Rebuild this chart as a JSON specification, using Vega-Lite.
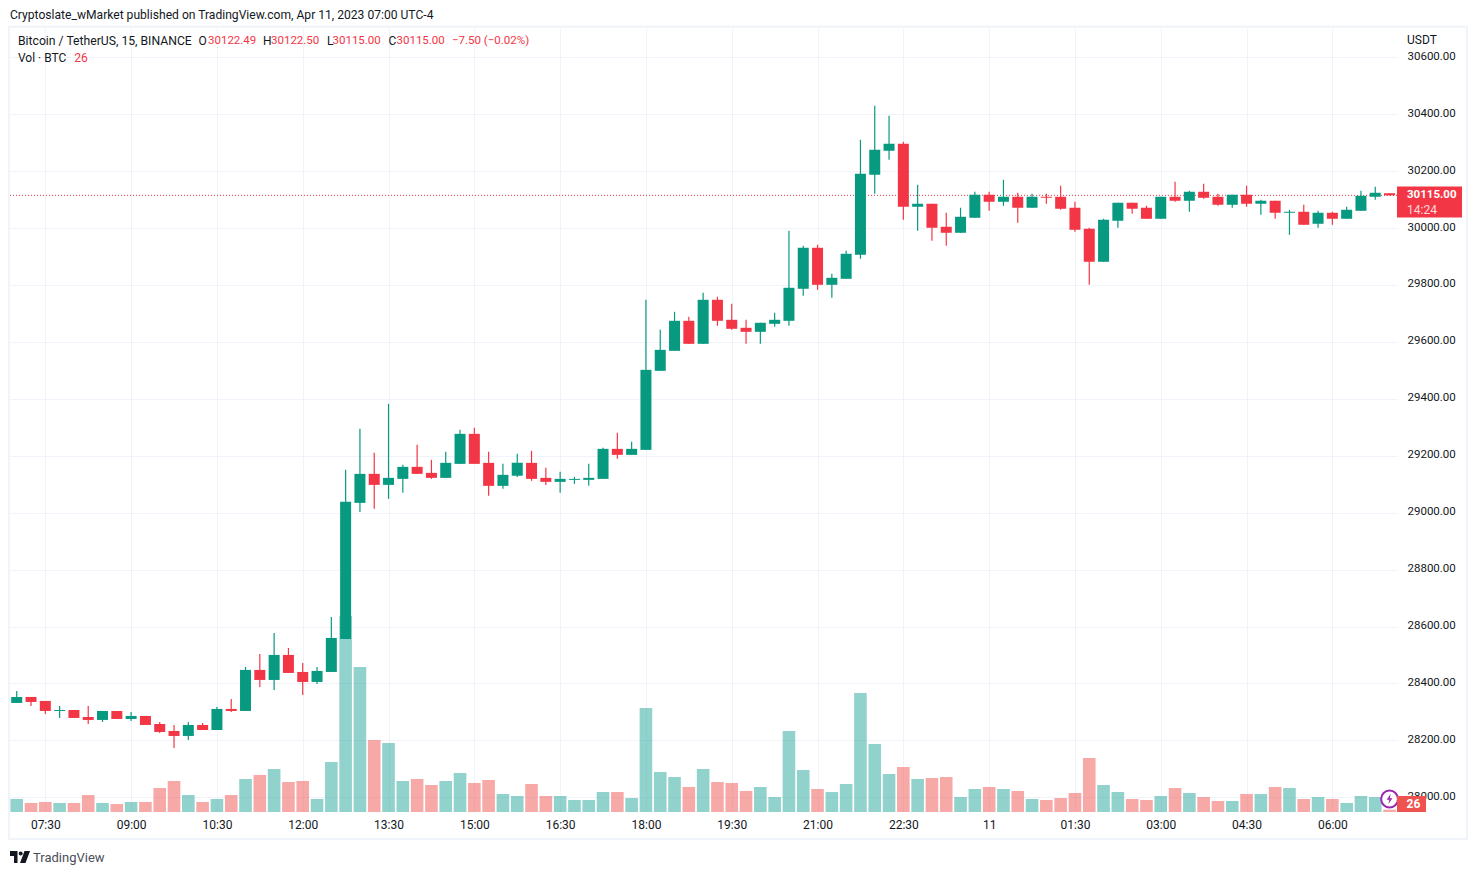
{"$schema":"https://vega.github.io/schema/vega-lite/v6.json","width":1387,"height":784,"autosize":{"type":"none"},"padding":{"left":10,"top":28,"right":80,"bottom":63},"background":"#ffffff","title":{"text":"Cryptoslate_wMarket published on TradingView.com, Apr 11, 2023 07:00 UTC-4","anchor":"start","frame":"group","fontSize":12.1,"fontWeight":"normal","color":"#131722","offset":5},"config":{"font":"Roboto","view":{"stroke":null},"text":{"fontSize":12,"align":"left","baseline":"middle","color":"#131722"}},"datasets":{"candles":[
{"t":"2023-04-10T07:00:00Z","open":28331.5,"high":28373.6,"low":28331.5,"close":28352.5,"volume":143},
{"t":"2023-04-10T07:15:00Z","open":28352.5,"high":28352.5,"low":28320.9,"close":28335,"volume":99},
{"t":"2023-04-10T07:30:00Z","open":28338.5,"high":28338.5,"low":28292.8,"close":28303.3,"volume":110},
{"t":"2023-04-10T07:45:00Z","open":28303.3,"high":28320.9,"low":28278.7,"close":28306.8,"volume":99},
{"t":"2023-04-10T08:00:00Z","open":28306.8,"high":28306.8,"low":28278.7,"close":28278.7,"volume":99},
{"t":"2023-04-10T08:15:00Z","open":28282.2,"high":28320.9,"low":28257.6,"close":28271.7,"volume":187},
{"t":"2023-04-10T08:30:00Z","open":28271.7,"high":28303.3,"low":28264.7,"close":28303.3,"volume":99},
{"t":"2023-04-10T08:45:00Z","open":28303.3,"high":28303.3,"low":28275.2,"close":28275.2,"volume":88},
{"t":"2023-04-10T09:00:00Z","open":28275.2,"high":28299.8,"low":28268.2,"close":28285.8,"volume":110},
{"t":"2023-04-10T09:15:00Z","open":28285.8,"high":28285.8,"low":28254.1,"close":28254.1,"volume":110},
{"t":"2023-04-10T09:30:00Z","open":28257.6,"high":28264.7,"low":28226,"close":28229.5,"volume":264},
{"t":"2023-04-10T09:45:00Z","open":28233,"high":28254.1,"low":28173.3,"close":28215.5,"volume":341},
{"t":"2023-04-10T10:00:00Z","open":28215.5,"high":28264.7,"low":28201.4,"close":28254.1,"volume":187},
{"t":"2023-04-10T10:15:00Z","open":28254.1,"high":28261.2,"low":28236.5,"close":28236.5,"volume":110},
{"t":"2023-04-10T10:30:00Z","open":28236.5,"high":28317.4,"low":28236.5,"close":28310.4,"volume":143},
{"t":"2023-04-10T10:45:00Z","open":28310.4,"high":28345.5,"low":28299.8,"close":28303.3,"volume":187},
{"t":"2023-04-10T11:00:00Z","open":28303.3,"high":28458,"low":28303.3,"close":28447.5,"volume":363},
{"t":"2023-04-10T11:15:00Z","open":28447.5,"high":28503.7,"low":28387.7,"close":28412.3,"volume":407},
{"t":"2023-04-10T11:30:00Z","open":28412.3,"high":28577.5,"low":28377.1,"close":28500.2,"volume":473},
{"t":"2023-04-10T11:45:00Z","open":28500.2,"high":28524.8,"low":28436.9,"close":28436.9,"volume":330},
{"t":"2023-04-10T12:00:00Z","open":28440.4,"high":28472.1,"low":28359.6,"close":28405.3,"volume":341},
{"t":"2023-04-10T12:15:00Z","open":28405.3,"high":28458,"low":28398.2,"close":28443.9,"volume":143},
{"t":"2023-04-10T12:30:00Z","open":28440.4,"high":28633.7,"low":28440.4,"close":28559.9,"volume":550},
{"t":"2023-04-10T12:45:00Z","open":28556.4,"high":29150.5,"low":28556.4,"close":29038,"volume":2156},
{"t":"2023-04-10T13:00:00Z","open":29034.5,"high":29294.5,"low":29002.8,"close":29136.4,"volume":1595},
{"t":"2023-04-10T13:15:00Z","open":29136.4,"high":29210.2,"low":29013.4,"close":29097.7,"volume":792},
{"t":"2023-04-10T13:30:00Z","open":29097.7,"high":29382.4,"low":29048.5,"close":29122.3,"volume":759},
{"t":"2023-04-10T13:45:00Z","open":29118.8,"high":29168,"low":29069.6,"close":29161,"volume":341},
{"t":"2023-04-10T14:00:00Z","open":29161,"high":29238.3,"low":29136.4,"close":29136.4,"volume":363},
{"t":"2023-04-10T14:15:00Z","open":29139.9,"high":29185.6,"low":29118.8,"close":29122.3,"volume":297},
{"t":"2023-04-10T14:30:00Z","open":29122.3,"high":29213.7,"low":29122.3,"close":29175.1,"volume":341},
{"t":"2023-04-10T14:45:00Z","open":29171.5,"high":29291,"low":29171.5,"close":29277,"volume":429},
{"t":"2023-04-10T15:00:00Z","open":29277,"high":29298.1,"low":29171.5,"close":29171.5,"volume":319},
{"t":"2023-04-10T15:15:00Z","open":29175.1,"high":29213.7,"low":29059.1,"close":29094.2,"volume":352},
{"t":"2023-04-10T15:30:00Z","open":29094.2,"high":29171.5,"low":29083.7,"close":29132.9,"volume":198},
{"t":"2023-04-10T15:45:00Z","open":29129.4,"high":29206.7,"low":29125.8,"close":29175.1,"volume":176},
{"t":"2023-04-10T16:00:00Z","open":29175.1,"high":29217.2,"low":29111.8,"close":29118.8,"volume":308},
{"t":"2023-04-10T16:15:00Z","open":29122.3,"high":29157.5,"low":29097.7,"close":29108.3,"volume":176},
{"t":"2023-04-10T16:30:00Z","open":29108.3,"high":29143.5,"low":29069.6,"close":29118.8,"volume":176},
{"t":"2023-04-10T16:45:00Z","open":29115.3,"high":29125.8,"low":29101.2,"close":29118.8,"volume":132},
{"t":"2023-04-10T17:00:00Z","open":29115.3,"high":29171.5,"low":29094.2,"close":29122.3,"volume":132},
{"t":"2023-04-10T17:15:00Z","open":29118.8,"high":29227.8,"low":29118.8,"close":29224.3,"volume":220},
{"t":"2023-04-10T17:30:00Z","open":29224.3,"high":29280.5,"low":29189.1,"close":29203.2,"volume":220},
{"t":"2023-04-10T17:45:00Z","open":29203.2,"high":29248.9,"low":29203.2,"close":29224.3,"volume":154},
{"t":"2023-04-10T18:00:00Z","open":29220.7,"high":29748,"low":29220.7,"close":29501.9,"volume":1144},
{"t":"2023-04-10T18:15:00Z","open":29498.4,"high":29642.5,"low":29498.4,"close":29572.2,"volume":440},
{"t":"2023-04-10T18:30:00Z","open":29568.7,"high":29705.8,"low":29568.7,"close":29674.2,"volume":385},
{"t":"2023-04-10T18:45:00Z","open":29674.2,"high":29688.2,"low":29593.3,"close":29593.3,"volume":275},
{"t":"2023-04-10T19:00:00Z","open":29593.3,"high":29772.6,"low":29593.3,"close":29748,"volume":473},
{"t":"2023-04-10T19:15:00Z","open":29748,"high":29758.5,"low":29656.6,"close":29674.2,"volume":330},
{"t":"2023-04-10T19:30:00Z","open":29677.7,"high":29733.9,"low":29642.5,"close":29646.1,"volume":319},
{"t":"2023-04-10T19:45:00Z","open":29649.6,"high":29677.7,"low":29593.3,"close":29635.5,"volume":231},
{"t":"2023-04-10T20:00:00Z","open":29635.5,"high":29667.2,"low":29593.3,"close":29667.2,"volume":275},
{"t":"2023-04-10T20:15:00Z","open":29663.6,"high":29702.3,"low":29653.1,"close":29677.7,"volume":165},
{"t":"2023-04-10T20:30:00Z","open":29674.2,"high":29990.5,"low":29656.6,"close":29790.2,"volume":891},
{"t":"2023-04-10T20:45:00Z","open":29786.7,"high":29937.8,"low":29762.1,"close":29930.8,"volume":462},
{"t":"2023-04-10T21:00:00Z","open":29930.8,"high":29941.3,"low":29783.1,"close":29800.7,"volume":253},
{"t":"2023-04-10T21:15:00Z","open":29800.7,"high":29839.4,"low":29755,"close":29825.3,"volume":220},
{"t":"2023-04-10T21:30:00Z","open":29821.8,"high":29920.2,"low":29821.8,"close":29909.7,"volume":308},
{"t":"2023-04-10T21:45:00Z","open":29906.2,"high":30310.4,"low":29892.1,"close":30190.9,"volume":1309},
{"t":"2023-04-10T22:00:00Z","open":30187.4,"high":30429.9,"low":30120.6,"close":30275.2,"volume":748},
{"t":"2023-04-10T22:15:00Z","open":30271.7,"high":30394.8,"low":30240.1,"close":30296.3,"volume":418},
{"t":"2023-04-10T22:30:00Z","open":30296.3,"high":30303.4,"low":30029.2,"close":30074.9,"volume":495},
{"t":"2023-04-10T22:45:00Z","open":30074.9,"high":30152.2,"low":29990.5,"close":30085.4,"volume":363},
{"t":"2023-04-10T23:00:00Z","open":30085.4,"high":30085.4,"low":29955.4,"close":30001.1,"volume":374},
{"t":"2023-04-10T23:15:00Z","open":30004.6,"high":30053.8,"low":29937.8,"close":29983.5,"volume":385},
{"t":"2023-04-10T23:30:00Z","open":29983.5,"high":30071.4,"low":29983.5,"close":30039.7,"volume":165},
{"t":"2023-04-10T23:45:00Z","open":30036.2,"high":30127.6,"low":30036.2,"close":30117.1,"volume":253},
{"t":"2023-04-11T00:00:00Z","open":30117.1,"high":30127.6,"low":30060.8,"close":30092.5,"volume":275},
{"t":"2023-04-11T00:15:00Z","open":30092.5,"high":30169.8,"low":30078.4,"close":30110,"volume":253},
{"t":"2023-04-11T00:30:00Z","open":30110,"high":30124.1,"low":30018.7,"close":30071.4,"volume":231},
{"t":"2023-04-11T00:45:00Z","open":30071.4,"high":30120.6,"low":30071.4,"close":30110,"volume":143},
{"t":"2023-04-11T01:00:00Z","open":30110,"high":30120.6,"low":30085.4,"close":30106.5,"volume":132},
{"t":"2023-04-11T01:15:00Z","open":30110,"high":30148.7,"low":30064.3,"close":30067.9,"volume":154},
{"t":"2023-04-11T01:30:00Z","open":30071.4,"high":30092.5,"low":29987,"close":29994,"volume":209},
{"t":"2023-04-11T01:45:00Z","open":29997.6,"high":30001.1,"low":29800.7,"close":29881.6,"volume":594},
{"t":"2023-04-11T02:00:00Z","open":29881.6,"high":30032.7,"low":29881.6,"close":30029.2,"volume":297},
{"t":"2023-04-11T02:15:00Z","open":30025.7,"high":30089,"low":30001.1,"close":30089,"volume":220},
{"t":"2023-04-11T02:30:00Z","open":30089,"high":30089,"low":30050.3,"close":30067.9,"volume":143},
{"t":"2023-04-11T02:45:00Z","open":30071.4,"high":30078.4,"low":30032.7,"close":30032.7,"volume":132},
{"t":"2023-04-11T03:00:00Z","open":30032.7,"high":30110,"low":30032.7,"close":30110,"volume":176},
{"t":"2023-04-11T03:15:00Z","open":30110,"high":30162.8,"low":30092.5,"close":30096,"volume":264},
{"t":"2023-04-11T03:30:00Z","open":30096,"high":30131.1,"low":30057.3,"close":30127.6,"volume":209},
{"t":"2023-04-11T03:45:00Z","open":30127.6,"high":30155.7,"low":30103,"close":30106.5,"volume":165},
{"t":"2023-04-11T04:00:00Z","open":30110,"high":30120.6,"low":30078.4,"close":30081.9,"volume":121},
{"t":"2023-04-11T04:15:00Z","open":30081.9,"high":30117.1,"low":30071.4,"close":30117.1,"volume":121},
{"t":"2023-04-11T04:30:00Z","open":30117.1,"high":30148.7,"low":30074.9,"close":30085.4,"volume":198},
{"t":"2023-04-11T04:45:00Z","open":30085.4,"high":30099.5,"low":30046.8,"close":30096,"volume":198},
{"t":"2023-04-11T05:00:00Z","open":30096,"high":30096,"low":30032.7,"close":30053.8,"volume":275},
{"t":"2023-04-11T05:15:00Z","open":30053.8,"high":30064.3,"low":29976.5,"close":30057.3,"volume":264},
{"t":"2023-04-11T05:30:00Z","open":30057.3,"high":30081.9,"low":30011.6,"close":30011.6,"volume":143},
{"t":"2023-04-11T05:45:00Z","open":30015.1,"high":30060.8,"low":30001.1,"close":30053.8,"volume":165},
{"t":"2023-04-11T06:00:00Z","open":30053.8,"high":30057.3,"low":30011.6,"close":30032.7,"volume":143},
{"t":"2023-04-11T06:15:00Z","open":30032.7,"high":30074.9,"low":30032.7,"close":30064.3,"volume":99},
{"t":"2023-04-11T06:30:00Z","open":30060.8,"high":30131.1,"low":30060.8,"close":30113.6,"volume":176},
{"t":"2023-04-11T06:45:00Z","open":30110,"high":30145.2,"low":30099.5,"close":30124.1,"volume":165},
{"t":"2023-04-11T07:00:00Z","open":30122.49,"high":30122.5,"low":30115,"close":30115,"volume":26}
]},
"layer":[
{"data":{"name":"candles"},"mark":{"type":"bar","width":12.6,"opacity":0.5},"encoding":{
"x":{"field":"t","type":"temporal","scale":{"type":"utc","domain":[1681109577000,1681196868000],"padding":0},"title":null,"axis":{"orient":"bottom","values":[1681111800000,1681117200000,1681122600000,1681128000000,1681133400000,1681138800000,1681144200000,1681149600000,1681155000000,1681160400000,1681165800000,1681171200000,1681176600000,1681182000000,1681187400000,1681192800000],"labelExpr":"utchours(datum.value)==0?'11':utcFormat(datum.value,'%H:%M')","grid":true,"gridColor":"#f0f3fa","gridWidth":1,"domain":false,"ticks":false,"labelColor":"#131722","labelFontSize":12,"labelPadding":7,"labelOverlap":false,"labelFlush":false,"title":null}},
"y":{"field":"volume","type":"quantitative","scale":{"domain":[0,8624],"nice":false},"axis":null},
"color":{"condition":{"test":"datum.close>=datum.open","value":"#26a69a"},"value":"#ef5350"}}},
{"data":{"values":[{}]},"layer":[
{"mark":{"type":"rule","color":"#f23645","strokeWidth":1,"strokeDash":[1,2]},"encoding":{"y":{"datum":30115}}},
{"data":{"name":"candles"},"mark":{"type":"rule","strokeWidth":1.2},"encoding":{
"x":{"field":"t","type":"temporal","scale":{"type":"utc","domain":[1681109577000,1681196868000],"padding":0},"title":null},
"y":{"field":"low","type":"quantitative","scale":{"domain":[27948.3,30703],"nice":false,"zero":false},"title":null,"axis":{"orient":"right","values":[28000,28200,28400,28600,28800,29000,29200,29400,29600,29800,30000,30200,30400,30600],"format":".2f","grid":true,"gridColor":"#f0f3fa","gridWidth":1,"domain":false,"ticks":false,"labelColor":"#131722","labelFontSize":11.5,"labelPadding":10,"labelOffset":-1,"title":null}},
"y2":{"field":"high"},
"color":{"condition":{"test":"datum.close>=datum.open","value":"#089981"},"value":"#f23645"}}},
{"data":{"name":"candles"},"mark":{"type":"bar","width":11},"encoding":{
"x":{"field":"t","type":"temporal","scale":{"type":"utc","domain":[1681109577000,1681196868000],"padding":0},"title":null},
"y":{"field":"open","type":"quantitative","title":null},
"y2":{"field":"close"},
"color":{"condition":{"test":"datum.close>=datum.open","value":"#089981"},"value":"#f23645"}}},
{"mark":{"type":"rect","fill":null,"stroke":"#f0f3fa","strokeWidth":2},"encoding":{"x":{"datum":1681109514064,"type":"temporal","scale":{"type":"utc"}},"x2":{"datum":1681201274461},"y":{"datum":30707.6},"y2":{"datum":27853.4}}},
{"mark":{"type":"text","fontSize":12.2},"encoding":{"x":{"datum":1681110080486,"type":"temporal","scale":{"type":"utc"}},"y":{"datum":30655.9},"text":{"value":"Bitcoin / TetherUS, 15, BINANCE"}}},
{"mark":{"type":"text"},"encoding":{"x":{"datum":1681121440398,"type":"temporal","scale":{"type":"utc"}},"y":{"datum":30655.9},"text":{"value":"O"}}},
{"mark":{"type":"text","color":"#f23645","fontSize":11.5},"encoding":{"x":{"datum":1681122038288,"type":"temporal","scale":{"type":"utc"}},"y":{"datum":30655.9},"text":{"value":"30122.49"}}},
{"mark":{"type":"text"},"encoding":{"x":{"datum":1681125499757,"type":"temporal","scale":{"type":"utc"}},"y":{"datum":30655.9},"text":{"value":"H"}}},
{"mark":{"type":"text","color":"#f23645","fontSize":11.5},"encoding":{"x":{"datum":1681126003244,"type":"temporal","scale":{"type":"utc"}},"y":{"datum":30655.9},"text":{"value":"30122.50"}}},
{"mark":{"type":"text"},"encoding":{"x":{"datum":1681129527649,"type":"temporal","scale":{"type":"utc"}},"y":{"datum":30655.9},"text":{"value":"L"}}},
{"mark":{"type":"text","color":"#f23645","fontSize":11.5},"encoding":{"x":{"datum":1681129873796,"type":"temporal","scale":{"type":"utc"}},"y":{"datum":30655.9},"text":{"value":"30115.00"}}},
{"mark":{"type":"text"},"encoding":{"x":{"datum":1681133398200,"type":"temporal","scale":{"type":"utc"}},"y":{"datum":30655.9},"text":{"value":"C"}}},
{"mark":{"type":"text","color":"#f23645","fontSize":11.5},"encoding":{"x":{"datum":1681133901687,"type":"temporal","scale":{"type":"utc"}},"y":{"datum":30655.9},"text":{"value":"30115.00"}}},
{"mark":{"type":"text","color":"#f23645","fontSize":11.5},"encoding":{"x":{"datum":1681137394624,"type":"temporal","scale":{"type":"utc"}},"y":{"datum":30655.9},"text":{"value":"−7.50 (−0.02%)"}}},
{"mark":{"type":"text"},"encoding":{"x":{"datum":1681110080486,"type":"temporal","scale":{"type":"utc"}},"y":{"datum":30596.2},"text":{"value":"Vol · BTC"}}},
{"mark":{"type":"text","color":"#f23645"},"encoding":{"x":{"datum":1681113623772,"type":"temporal","scale":{"type":"utc"}},"y":{"datum":30596.2},"text":{"value":"26"}}},
{"mark":{"type":"text"},"encoding":{"x":{"datum":1681197498313,"type":"temporal","scale":{"type":"utc"}},"y":{"datum":30661.9},"text":{"value":"USDT"}}},
{"mark":{"type":"rect","color":"#f23645"},"encoding":{"x":{"datum":1681196868000,"type":"temporal","scale":{"type":"utc"}},"x2":{"datum":1681200959782},"y":{"datum":30146.2},"y2":{"datum":30037.3}}},
{"mark":{"type":"text","color":"#ffffff","fontWeight":"bold","fontSize":11.5},"encoding":{"x":{"datum":1681197498313,"type":"temporal","scale":{"type":"utc"}},"y":{"datum":30114.6},"text":{"value":"30115.00"}}},
{"mark":{"type":"text","color":"#ffffff","opacity":0.8},"encoding":{"x":{"datum":1681197498313,"type":"temporal","scale":{"type":"utc"}},"y":{"datum":30064.3},"text":{"value":"14:24"}}},
{"mark":{"type":"point","shape":"circle","filled":true,"fill":"#ffffff","stroke":"#9c27b0","strokeWidth":2,"size":283,"opacity":1},"encoding":{"x":{"datum":1681196400000,"type":"temporal","scale":{"type":"utc"}},"y":{"datum":27994}}},
{"mark":{"type":"point","shape":"M0.2,-0.9 L-0.5,0.15 H-0.05 L-0.2,0.9 L0.5,-0.15 H0.05 Z","filled":true,"color":"#9c27b0","size":130,"opacity":1},"encoding":{"x":{"datum":1681196400000,"type":"temporal","scale":{"type":"utc"}},"y":{"datum":27994}}},
{"mark":{"type":"rect","color":"#ef5350"},"encoding":{"x":{"datum":1681196868000,"type":"temporal","scale":{"type":"utc"}},"x2":{"datum":1681198694093},"y":{"datum":28004.6},"y2":{"datum":27948.3}}},
{"mark":{"type":"text","color":"#ffffff","align":"center","fontWeight":"bold"},"encoding":{"x":{"datum":1681197906992,"type":"temporal","scale":{"type":"utc"}},"y":{"datum":27974.7},"text":{"value":"26"}}},
{"mark":{"type":"point","shape":"M-1,-0.6 H-0.25 V0.6 H-0.6 V-0.1 H-1 Z M0.27,-0.35 A0.2,0.2 0 1 1 -0.13,-0.35 A0.2,0.2 0 1 1 0.27,-0.35 Z M0.45,-0.6 H1 L0.55,0.6 H0 Z","filled":true,"color":"#131722","size":400,"opacity":1},"encoding":{"x":{"datum":1681110206679,"type":"temporal","scale":{"type":"utc"}},"y":{"datum":27790}}},
{"mark":{"type":"text","color":"#4a4e5a","fontSize":13},"encoding":{"x":{"datum":1681111024000,"type":"temporal","scale":{"type":"utc"}},"y":{"datum":27786.7},"text":{"value":"TradingView"}}}
]}
],
"resolve":{"scale":{"y":"independent"}}}
